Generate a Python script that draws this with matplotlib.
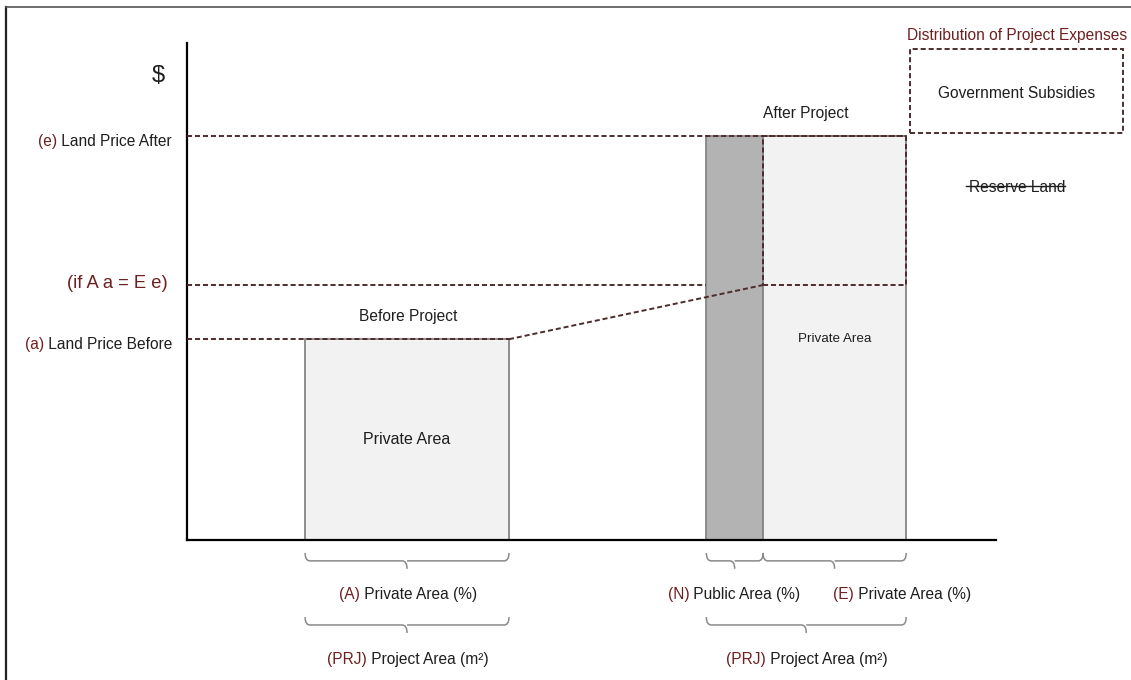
import numpy as np
import matplotlib.pyplot as plt
from matplotlib.path import Path
from matplotlib.patches import PathPatch, Rectangle

plt.rcParams['font.family'] = ['Liberation Sans', 'DejaVu Sans']

# land price levels ($), y axis runs 0..100
price_before = 40.4
price_breakeven = 51.3
price_after = 81.3
level_prefix = ["(e)", "", "(a)"]
level_rest = [" Land Price After", "(if A a = E e)", " Land Price Before"]
level_values = [price_after, price_breakeven, price_before]

# areas along the x axis (axis runs 0..100)
bar_start = [14.6, 64.2, 71.2]
bar_width = [25.2, 7.0, 17.7]
bar_height = [price_before, price_after, price_after]
bar_text = ["Private Area", "", "Private Area"]

DARK_RED = "#6e1f1f"
DASH = "#4d2c2c"
TXT = "#1e1e1e"
FS = 11.2
dash_kw = dict(color=DASH, lw=1.4, dashes=(2.6, 1.5), clip_on=False)

fig = plt.figure(figsize=(11.31, 6.8), dpi=100)
ax = fig.add_axes([0, 0, 1, 1])
ax.set_xlim(-187 / 8.09, (1131 - 187) / 8.09)
ax.set_ylim((540 - 680) / 4.97, 540 / 4.97)
ax.axis("off")


def two_color(x, y, prefix, rest, size, ha="center"):
    t = ax.text(x, y, prefix + rest, ha=ha, va="center", fontsize=size, alpha=0)
    fig.canvas.draw()
    bb = t.get_window_extent()
    inv = ax.transData.inverted()
    x0 = inv.transform((bb.x0, 0))[0]
    x1 = inv.transform((bb.x1, 0))[0]
    t.remove()
    ax.text(x0, y, prefix, ha="left", va="center", fontsize=size, color=DARK_RED)
    ax.text(x1, y, rest, ha="right", va="center", fontsize=size, color=TXT)


def brace(x0, x1, y, h=3.2):
    xc = (x0 + x1) / 2
    ym = y - h / 2
    yt = y - h
    r = 0.6
    verts = [(x0, y), (x0, ym), (x0 + r, ym), (xc - r, ym), (xc, ym), (xc, yt),
             (xc, ym), (xc + r, ym), (x1 - r, ym), (x1, ym), (x1, y)]
    codes = [Path.MOVETO, Path.CURVE3, Path.CURVE3, Path.LINETO, Path.CURVE3, Path.CURVE3,
             Path.MOVETO, Path.CURVE3, Path.LINETO, Path.CURVE3, Path.CURVE3]
    ax.add_patch(PathPatch(Path(verts, codes), fill=False, edgecolor="#8a8a8a", lw=1.1, clip_on=False))


# outer frame
ax.plot([-22.4, -22.4], [-30, 107.2], color="#222222", lw=1.6, clip_on=False)
ax.plot([-22.4, 120], [107.2, 107.2], color="#555555", lw=1.2, clip_on=False)

# bars
ax.bar(bar_start, bar_height, width=bar_width, align="edge",
       color=["#f2f2f2", "#b3b3b3", "#f2f2f2"], edgecolor="#858585", lw=1.3, zorder=2)
for s, w, h, t in zip(bar_start, bar_width, bar_height, bar_text):
    if t:
        if h < 60:
            ax.text(s + w / 2, h / 2, t, ha="center", va="center", fontsize=11.5, color=TXT, zorder=3)
        else:
            ax.text(s + w / 2, price_before, t, ha="center", va="center", fontsize=9.6, color=TXT, zorder=3)

# axes
ax.plot([0, 0], [0, 100], color="black", lw=1.6, zorder=4)
ax.plot([0, 100], [0, 0], color="black", lw=1.6, zorder=4)

# dashed guide lines
pub_x0 = bar_start[1]
prv_x0 = bar_start[2]
prv_x1 = bar_start[2] + bar_width[2]
ax.plot([0, bar_start[0] + bar_width[0]], [price_before, price_before], zorder=5, **dash_kw)
ax.plot([bar_start[0] + bar_width[0], prv_x0], [price_before, price_breakeven], zorder=5, **dash_kw)
ax.plot([0, pub_x0], [price_breakeven, price_breakeven], zorder=5, **dash_kw)
ax.plot([0, prv_x1], [price_after, price_after], zorder=5, **dash_kw)
ax.plot([prv_x0, prv_x1, prv_x1, prv_x0, prv_x0],
        [price_breakeven, price_breakeven, price_after, price_after, price_breakeven], zorder=5, **dash_kw)

# y labels
ax.text(-3.6, 93.4, "$", ha="center", va="center", fontsize=17, color=TXT)
for p, r, v in zip(level_prefix, level_rest, level_values):
    if p:
        two_color(-1.85, v - 1.1, p, r, FS, ha="right")
    else:
        ax.text(-2.35, v + 0.3, r, ha="right", va="center", fontsize=13.2, color=DARK_RED)

ax.text(27.3, 44.9, "Before Project", ha="center", va="center", fontsize=FS, color=TXT)
ax.text(76.5, 85.9, "After Project", ha="center", va="center", fontsize=FS, color=TXT)

# expense distribution box
ax.add_patch(Rectangle((89.4, 81.9), 26.3, 16.9, fill=False, edgecolor=DASH, lw=1.4,
                       linestyle=(0, (2.6, 1.5)), clip_on=False))
ax.text(102.6, 101.6, "Distribution of Project Expenses", ha="center", va="center",
        fontsize=FS, color=DARK_RED)
ax.text(102.6, 89.9, "Government Subsidies", ha="center", va="center", fontsize=FS, color=TXT)
rl = ax.text(102.6, 71.0, "Reserve Land", ha="center", va="center", fontsize=FS, color=TXT)
fig.canvas.draw()
bb = rl.get_window_extent()
inv = ax.transData.inverted()
ax.plot([inv.transform((bb.x0, 0))[0] - 0.3, inv.transform((bb.x1, 0))[0]], [71.3, 71.3],
        color=TXT, lw=1.0)

# braces and area labels
brace(bar_start[0], bar_start[0] + bar_width[0], -2.6)
brace(bar_start[1], bar_start[1] + bar_width[1], -2.6)
brace(bar_start[2], bar_start[2] + bar_width[2], -2.6)
brace(bar_start[0], bar_start[0] + bar_width[0], -15.5)
brace(bar_start[1], bar_start[2] + bar_width[2], -15.5)

two_color(27.3, -10.9, "(A)", " Private Area (%)", FS)
two_color(67.6, -10.9, "(N)", " Public Area (%)", FS)
two_color(88.4, -10.9, "(E)", " Private Area (%)", FS)
two_color(27.3, -24.1, "(PRJ)", " Project Area (m\u00b2)", FS)
two_color(76.6, -24.1, "(PRJ)", " Project Area (m\u00b2)", FS)

fig.savefig("out.png", dpi=100)
